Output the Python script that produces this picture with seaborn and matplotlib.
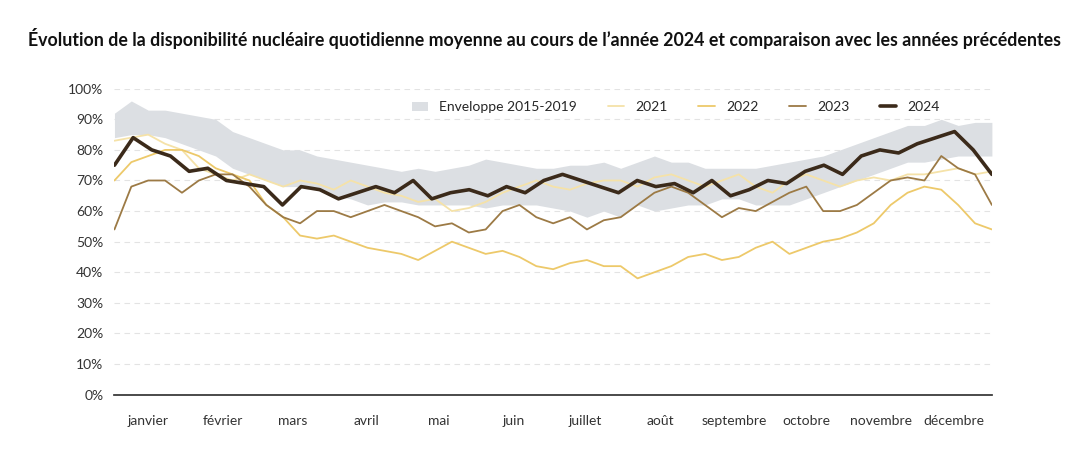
import numpy as np
import pandas as pd
import matplotlib.pyplot as plt
import seaborn as sns

# weekly-ish readings (%) from the reference
y2024 = [75, 84, 80, 78, 73, 74, 70, 69, 68, 62, 68, 67, 64, 66, 68, 66, 70, 64, 66, 67,
         65, 68, 66, 70, 72, 70, 68, 66, 70, 68, 69, 66, 70, 65, 67, 70, 69, 73, 75, 72,
         78, 80, 79, 82, 84, 86, 80, 72]
y2021 = [83, 84, 85, 82, 80, 74, 72, 70, 72, 70, 68, 70, 69, 67, 70, 68, 66, 65, 63, 64,
         60, 61, 63, 66, 68, 70, 68, 67, 69, 70, 70, 68, 71, 72, 70, 68, 70, 72, 68, 66,
         70, 72, 70, 68, 70, 71, 70, 72, 72, 73, 74, 72, 73]
y2022 = [70, 76, 78, 80, 80, 78, 74, 72, 70, 62, 58, 52, 51, 52, 50, 48, 47, 46, 44, 47,
         50, 48, 46, 47, 45, 42, 41, 43, 44, 42, 42, 38, 40, 42, 45, 46, 44, 45, 48, 50,
         46, 48, 50, 51, 53, 56, 62, 66, 68, 67, 62, 56, 54]
y2023 = [54, 68, 70, 70, 66, 70, 72, 72, 68, 62, 58, 56, 60, 60, 58, 60, 62, 60, 58, 55,
         56, 53, 54, 60, 62, 58, 56, 58, 54, 57, 58, 62, 66, 68, 66, 62, 58, 61, 60, 63,
         66, 68, 60, 60, 62, 66, 70, 71, 70, 78, 74, 72, 62]
env_high = [92, 96, 93, 93, 92, 91, 90, 86, 84, 82, 80, 80, 78, 77, 76, 75, 74, 73, 74, 73,
            74, 75, 77, 76, 75, 74, 74, 75, 75, 76, 74, 76, 78, 76, 76, 74, 74, 74, 74, 75,
            76, 77, 78, 80, 82, 84, 86, 88, 88, 90, 88, 89, 89]
env_low = [84, 85, 85, 84, 82, 80, 78, 74, 72, 70, 68, 68, 67, 65, 64, 62, 63, 63, 62, 62,
           62, 62, 61, 62, 62, 62, 61, 60, 58, 60, 58, 62, 60, 61, 62, 62, 64, 64, 62, 62,
           62, 64, 66, 68, 70, 72, 74, 76, 76, 77, 78, 78, 78]
months = ['janvier', 'février', 'mars', 'avril', 'mai', 'juin', 'juillet', 'août',
          'septembre', 'octobre', 'novembre', 'décembre']


def dates(vals):
    return pd.date_range('2024-01-01', '2024-12-31', periods=len(vals))


sns.set_theme(style='white')
plt.rcParams['font.family'] = ['Lato', 'DejaVu Sans']

fig, ax = plt.subplots(figsize=(10.9, 4.67), dpi=100)
fig.subplots_adjust(left=0.105, right=0.91, top=0.81, bottom=0.155)

ax.fill_between(dates(env_high), env_low, env_high, color='#dcdfe3', lw=0,
                label='Enveloppe 2015-2019')
sns.lineplot(x=dates(y2021), y=y2021, ax=ax, color='#f5e2a8', lw=1.3, label='2021')
sns.lineplot(x=dates(y2022), y=y2022, ax=ax, color='#edc96a', lw=1.3, label='2022')
sns.lineplot(x=dates(y2023), y=y2023, ax=ax, color='#9c7a45', lw=1.3, label='2023')
sns.lineplot(x=dates(y2024), y=y2024, ax=ax, color='#3b2a1a', lw=2.6, label='2024')

ax.set_ylim(0, 100)
ax.set_yticks(range(0, 101, 10))
ax.set_yticklabels([f'{v}%' for v in range(0, 101, 10)], fontsize=10, color='#333333')
ax.set_xlim(pd.Timestamp('2024-01-01'), pd.Timestamp('2024-12-31'))
ax.set_xticks([pd.Timestamp(2024, m, 15) for m in range(1, 13)])
ax.set_xticklabels(months, fontsize=10, color='#333333')
ax.tick_params(axis='y', length=0, pad=8)
ax.tick_params(axis='x', length=0, pad=15)
ax.grid(axis='y', color='#e3e3e3', ls=(0, (5, 4)), lw=0.8)
for s in ['top', 'right', 'left']:
    ax.spines[s].set_visible(False)
ax.spines['bottom'].set_color('#333333')
ax.set_xlabel('')
ax.set_ylabel('')

ax.legend(loc='upper right', ncol=5, frameon=False, fontsize=10, handlelength=1.2,
          columnspacing=2.2, bbox_to_anchor=(0.955, 1.0))
fig.suptitle("Évolution de la disponibilité nucléaire quotidienne moyenne au cours de l’année 2024 et comparaison avec les années précédentes",
             x=0.5, y=0.94, fontsize=12.8, fontweight='bold', color='#111111')

fig.savefig('out.png', dpi=100)
